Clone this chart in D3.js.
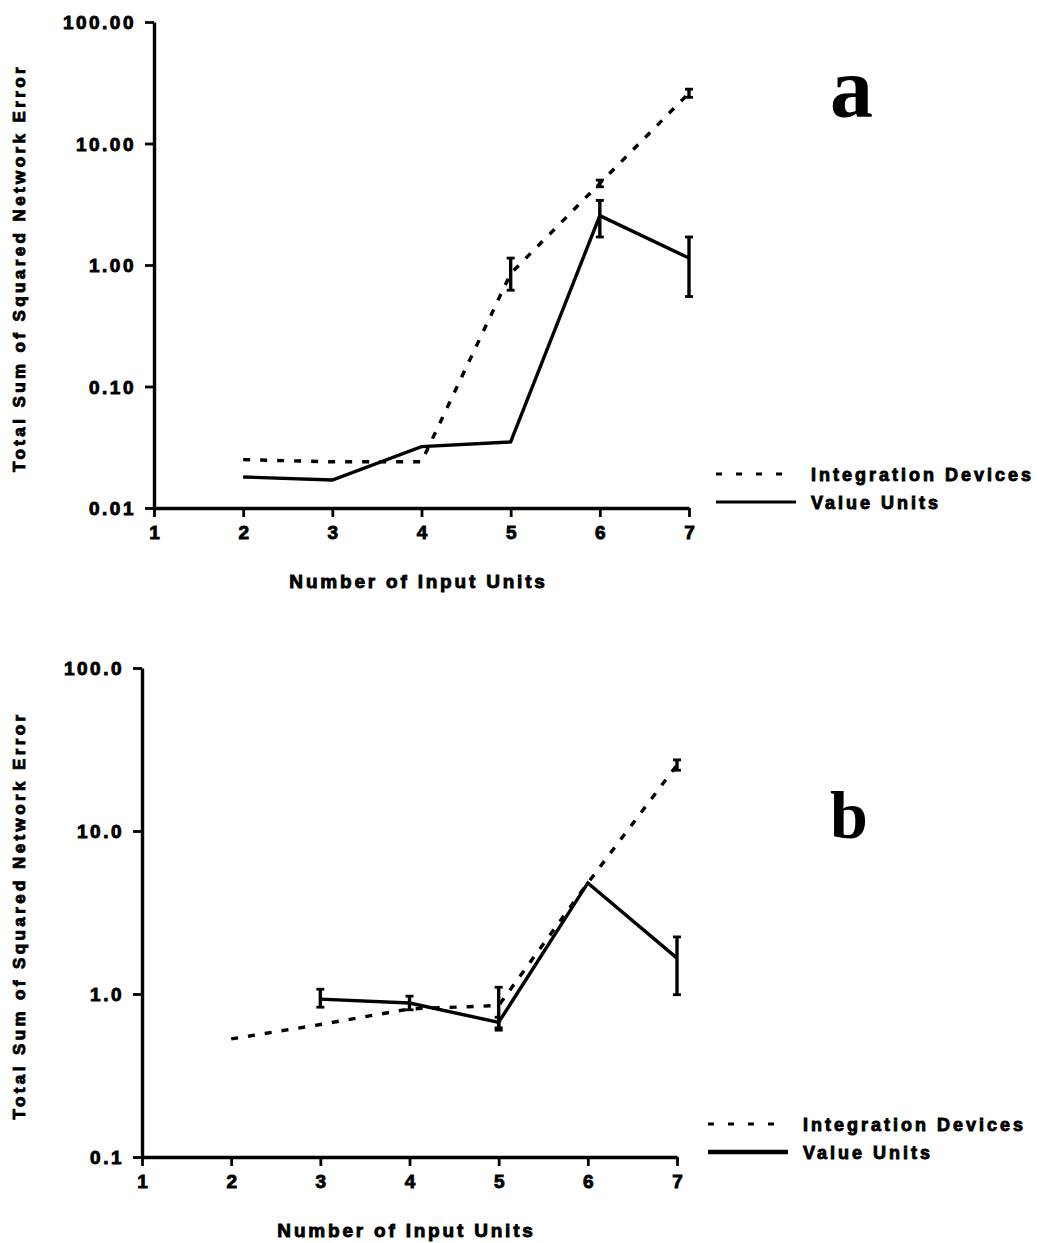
<!DOCTYPE html>
<html>
<head>
<meta charset="utf-8">
<script src="https://cdn.jsdelivr.net/npm/d3@7/dist/d3.min.js"></script>
<style>
  body { margin:0; background:#fff; }
  svg text { font-family:"Liberation Sans", Arial, sans-serif; font-weight:bold; fill:#000;
             stroke:#000; stroke-width:0.9px; }
  svg text.letter { stroke:none; font-family:"Liberation Serif", "Times New Roman", serif; }
</style>
</head>
<body>
<script>
// x categories (number of input units)
const inputUnits = [2, 3, 4, 5, 6, 7];
const xTicks = [1, 2, 3, 4, 5, 6, 7];

// panel a
const yTicksA = [0.01, 0.1, 1, 10, 100];
const yLabelsA = ["0.01", "0.10", "1.00", "10.00", "100.00"];
const intDevA    = [0.025, 0.024, 0.024, 0.85, 4.7, 26];
const intDevA_lo = [null, null, null, 0.62, 4.4, 24];
const intDevA_hi = [null, null, null, 1.14, 5.0, 28];
const valUnitA    = [0.018, 0.017, 0.032, 0.035, 2.55, 1.14];
const valUnitA_lo = [null, null, null, null, 1.7, 0.55];
const valUnitA_hi = [null, null, null, null, 3.4, 1.7];

// panel b
const yTicksB = [0.1, 1, 10, 100];
const yLabelsB = ["0.1", "1.0", "10.0", "100.0"];
const intDevB    = [0.53, 0.65, 0.81, 0.85, 4.8, 25.4];
const intDevB_lo = [null, null, null, 0.62, null, 23.6];
const intDevB_hi = [null, null, null, 1.10, null, 27.3];
const valUnitB    = [null, 0.93, 0.88, 0.67, 4.8, 1.66];
const valUnitB_lo = [null, 0.83, 0.80, 0.60, null, 0.99];
const valUnitB_hi = [null, 1.07, 0.97, 0.72, null, 2.24];

const seriesNames = ["Integration Devices", "Value Units"];

let svg = d3.select("body").append("svg")
    .attr("width", 1038).attr("height", 1243);

let toPoints = function(vals, lo, hi) {
    return inputUnits.map(function(u, i) {
        return {x: u, v: vals[i], lo: lo[i], hi: hi[i]};
    });
};

let drawPanel = function(p) {
    let g = svg.append("g");
    let xScale = d3.scaleLinear().domain([1, 7]).range([p.x0, p.x1]);
    let yScale = d3.scaleLog().domain([p.yTicks[0], 100]).range([p.y0, p.y1]);

//axes
    let yAxis = g.append("g")
        .attr("transform", "translate(" + p.x0 + ",0)")
        .call(d3.axisLeft(yScale).tickValues(p.yTicks)
            .tickFormat(function(d, i) { return p.yLabels[i]; })
            .tickSize(9).tickSizeOuter(0).tickPadding(9));
    let xAxis = g.append("g")
        .attr("transform", "translate(0," + p.y0 + ")")
        .call(d3.axisBottom(xScale).tickValues(xTicks)
            .tickFormat(d3.format("d"))
            .tickSize(9).tickSizeOuter(0).tickPadding(8));
    g.selectAll(".domain").attr("stroke-width", 3.4);
    g.selectAll(".tick line").attr("stroke-width", 2.8);
    yAxis.selectAll("text").style("font-size", "19px").style("letter-spacing", "2.5px")
        .attr("dy", "0.36em");
    xAxis.selectAll("text").style("font-size", "19px").attr("dy", "0.75em");

    g.append("text")
        .attr("transform", "translate(25," + ((p.y0 + p.y1) / 2 + 3) + ") rotate(-90)")
        .attr("text-anchor", "middle")
        .style("font-size", "17px").style("letter-spacing", "3.4px")
        .text("Total Sum of Squared Network Error");
    g.append("text")
        .attr("x", (p.x0 + p.x1) / 2 - 3).attr("y", p.y0 + 80)
        .attr("text-anchor", "middle")
        .style("font-size", "19px").style("letter-spacing", "2.8px")
        .text("Number of Input Units");

//lines
    let line = d3.line()
        .defined(function(d) { return d.v != null; })
        .x(function(d) { return xScale(d.x); })
        .y(function(d) { return yScale(d.v); });

    let sets = [
        {pts: toPoints(p.intDev, p.intLo, p.intHi), dash: "7,10"},
        {pts: toPoints(p.valUnit, p.valLo, p.valHi), dash: null}
    ];
    sets.forEach(function(s) {
        g.append("path").datum(s.pts)
            .attr("d", line)
            .attr("fill", "none").attr("stroke", "#000")
            .attr("stroke-width", 3.4)
            .attr("stroke-dasharray", s.dash);
        let eb = g.selectAll(null)
            .data(s.pts.filter(function(d) { return d.lo != null; }))
            .enter().append("g");
        eb.append("line")
            .attr("x1", function(d) { return xScale(d.x); })
            .attr("x2", function(d) { return xScale(d.x); })
            .attr("y1", function(d) { return yScale(d.lo); })
            .attr("y2", function(d) { return yScale(d.hi); })
            .attr("stroke", "#000").attr("stroke-width", 3.4);
        ["lo", "hi"].forEach(function(k) {
            eb.append("line")
                .attr("x1", function(d) { return xScale(d.x) - 4; })
                .attr("x2", function(d) { return xScale(d.x) + 4; })
                .attr("y1", function(d) { return yScale(d[k]); })
                .attr("y2", function(d) { return yScale(d[k]); })
                .attr("stroke", "#000").attr("stroke-width", 2.8);
        });
    });

//big panel letter
    g.append("text").attr("class", "letter")
        .attr("x", p.letterX).attr("y", p.letterY)
        .style("font-size", p.letterSize + "px")
        .text(p.letter);

//legend
    let leg = g.append("g").attr("transform", "translate(" + p.legX + "," + p.legY + ")");
    seriesNames.forEach(function(name, i) {
        leg.append("line")
            .attr("x1", 0).attr("x2", 80)
            .attr("y1", i * 28).attr("y2", i * 28)
            .attr("stroke", "#000").attr("stroke-width", i == 0 ? 3 : p.legSolidW)
            .attr("stroke-dasharray", i == 0 ? "6,14" : null);
        leg.append("text")
            .attr("x", 95).attr("y", i * 28 + 7)
            .style("font-size", "18px").style("letter-spacing", "3px")
            .text(name);
    });
};

drawPanel({
    x0: 154, x1: 689, y0: 508, y1: 22,
    yTicks: yTicksA, yLabels: yLabelsA,
    intDev: intDevA, intLo: intDevA_lo, intHi: intDevA_hi,
    valUnit: valUnitA, valLo: valUnitA_lo, valHi: valUnitA_hi,
    letter: "a", letterX: 830, letterY: 117, letterSize: 86,
    legX: 716, legY: 474, legSolidW: 3
});
drawPanel({
    x0: 142, x1: 677, y0: 1157, y1: 668,
    yTicks: yTicksB, yLabels: yLabelsB,
    intDev: intDevB, intLo: intDevB_lo, intHi: intDevB_hi,
    valUnit: valUnitB, valLo: valUnitB_lo, valHi: valUnitB_hi,
    letter: "b", letterX: 830, letterY: 838, letterSize: 68,
    legX: 708, legY: 1124, legSolidW: 4.5
});
</script>
</body>
</html>
